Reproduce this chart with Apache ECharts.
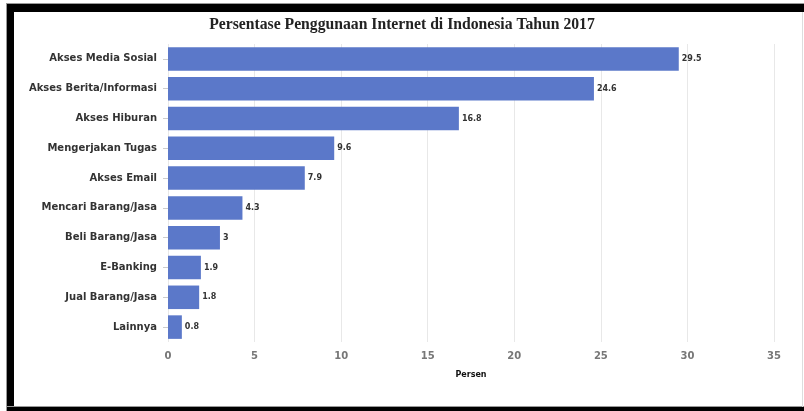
<!DOCTYPE html>
<html>
<head>
<meta charset="utf-8">
<script src="https://cdn.jsdelivr.net/npm/echarts@6/dist/echarts.min.js"></script>
<style>
  html, body { margin: 0; padding: 0; background: #fff; }
  #chart { width: 804px; height: 411px; }
</style>
</head>
<body>
<div id="chart"></div>
<script>
// Internet usage purposes in Indonesia, 2017 (percent)
const categories = [
  'Akses Media Sosial',
  'Akses Berita/Informasi',
  'Akses Hiburan',
  'Mengerjakan Tugas',
  'Akses Email',
  'Mencari Barang/Jasa',
  'Beli Barang/Jasa',
  'E-Banking',
  'Jual Barang/Jasa',
  'Lainnya'
];
const values = [29.5, 24.6, 16.8, 9.6, 7.9, 4.3, 3, 1.9, 1.8, 0.8];
const xTicks = [0, 5, 10, 15, 20, 25, 30, 35];

const chart = echarts.init(document.getElementById('chart'), null, { renderer: 'canvas' });

chart.setOption({
  animation: false,
  backgroundColor: '#fff',
  title: {
    text: 'Persentase Penggunaan Internet di Indonesia Tahun 2017',
    left: 'center',
    top: 12,
    textStyle: {
      fontFamily: 'Liberation Serif',
      fontWeight: 'bold',
      fontSize: 15.7,
      color: '#222'
    }
  },
  grid: { left: 168, right: 30, top: 44, bottom: 69, containLabel: false },
  xAxis: {
    type: 'value',
    min: xTicks[0],
    max: xTicks[xTicks.length - 1],
    interval: 5,
    name: 'Persen',
    nameLocation: 'middle',
    nameGap: 29,
    nameTextStyle: {
      fontFamily: 'DejaVu Sans',
      fontWeight: 'bold',
      fontSize: 8,
      color: '#111'
    },
    axisLine: { show: false },
    axisTick: { show: false },
    axisLabel: {
      margin: 9,
      fontFamily: 'DejaVu Sans',
      fontWeight: 'bold',
      fontSize: 10,
      color: '#777'
    },
    splitLine: { show: true, lineStyle: { color: '#e8e8e8', width: 1 } }
  },
  yAxis: {
    type: 'category',
    inverse: true,
    data: categories,
    axisLine: { show: false },
    axisTick: { show: true, alignWithLabel: true, length: 5, lineStyle: { color: '#ccc' } },
    axisLabel: {
      margin: 11,
      fontFamily: 'DejaVu Sans',
      fontWeight: 'bold',
      fontSize: 10,
      color: '#333'
    }
  },
  series: [{
    type: 'bar',
    data: values,
    barCategoryGap: '21%',
    itemStyle: { color: '#5b78c9' },
    label: {
      show: true,
      position: 'right',
      distance: 3,
      fontFamily: 'DejaVu Sans',
      fontWeight: 'bold',
      fontSize: 8,
      color: '#333'
    }
  }],
  graphic: [
    { type: 'rect', shape: { x: 6, y: 3, width: 798, height: 1 }, style: { fill: '#999' } },
    { type: 'rect', shape: { x: 7, y: 4, width: 797, height: 8 }, style: { fill: '#000' } },
    { type: 'rect', shape: { x: 6, y: 4, width: 1, height: 407 }, style: { fill: '#999' } },
    { type: 'rect', shape: { x: 7, y: 4, width: 7, height: 407 }, style: { fill: '#000' } },
    { type: 'rect', shape: { x: 7, y: 406, width: 797, height: 1 }, style: { fill: '#999' } },
    { type: 'rect', shape: { x: 7, y: 407, width: 797, height: 4 }, style: { fill: '#000' } },
    { type: 'rect', shape: { x: 802, y: 12, width: 1, height: 395 }, style: { fill: '#ddd' } }
  ]
});
</script>
</body>
</html>
